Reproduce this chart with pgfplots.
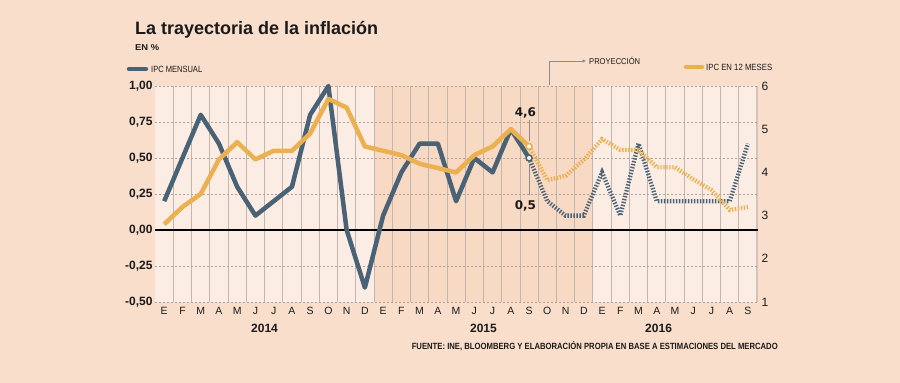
\documentclass[border=0pt]{standalone}
\usepackage{fontspec}
\setmainfont{Liberation Sans}
\newfontfamily\dejavu{DejaVu Sans}
\usepackage{graphicx}
\usepackage{pgfplots}
\pgfplotsset{compat=1.18}
\definecolor{bg}{HTML}{F9DECB}
\definecolor{lightband}{HTML}{FCEDE4}
\definecolor{midband}{HTML}{F8D9C4}
\definecolor{gridv}{HTML}{C2B6AE}
\definecolor{gridh}{HTML}{ADA39C}
\definecolor{ipcblue}{HTML}{4A6276}
\definecolor{ipcorange}{HTML}{EBB050}
\definecolor{txt}{HTML}{1A1A1A}
\definecolor{annot}{HTML}{8C8C8C}

\pgfplotstableread{
x y
0 0.2
1 0.5
2 0.8
3 0.6
4 0.3
5 0.1
6 0.2
7 0.3
8 0.8
9 1.0
10 0.0
11 -0.4
12 0.1
13 0.4
14 0.6
15 0.6
16 0.2
17 0.5
18 0.4
19 0.7
20 0.5
}\mensual
\pgfplotstableread{
x y
20 0.5
21 0.2
22 0.1
23 0.1
24 0.4
25 0.1
26 0.6
27 0.2
28 0.2
29 0.2
30 0.2
31 0.2
32 0.6
}\mensualproy
\pgfplotstableread{
x y
0 2.8
1 3.2
2 3.5
3 4.3
4 4.7
5 4.3
6 4.5
7 4.5
8 4.9
9 5.7
10 5.5
11 4.6
12 4.5
13 4.4
14 4.2
15 4.1
16 4.0
17 4.4
18 4.6
19 5.0
20 4.6
}\anual
\pgfplotstableread{
x y
20 4.6
21 3.82
22 3.92
23 4.29
24 4.77
25 4.52
26 4.52
27 4.12
28 4.12
29 3.84
30 3.59
31 3.13
32 3.2
}\anualproy

\begin{document}
\begin{tikzpicture}
\fill[bg] (0pt,0pt) rectangle (900pt,383pt);
% title
\node[anchor=base west, inner sep=0, text=txt] at (135pt,348pt)
  {\resizebox{243pt}{\height}{\fontsize{18}{20}\selectfont\bfseries La trayectoria de la inflación}};
\node[anchor=base west, inner sep=0, text=txt] at (135pt,332.5pt)
  {\resizebox{24pt}{\height}{\fontsize{8.5}{10}\selectfont\bfseries EN \%}};
% legends
\draw[ipcblue, line width=4.5pt, line cap=round] (129pt,314pt) -- (146pt,314pt);
\node[anchor=west, inner sep=0, text=txt] at (151pt,314pt)
  {\resizebox{51pt}{\height}{\fontsize{9}{10}\selectfont IPC MENSUAL}};
\draw[ipcorange, line width=4.5pt, line cap=round] (686pt,316pt) -- (702pt,316pt);
\node[anchor=west, inner sep=0, text=txt] at (706pt,316pt)
  {\resizebox{66pt}{\height}{\fontsize{9}{10}\selectfont IPC EN 12 MESES}};
% projection annotation
\draw[annot, line width=0.6pt] (549pt,298pt) -- (549pt,322pt) -- (584pt,322pt);
\fill[annot] (586pt,322pt) -- (582.5pt,323.6pt) -- (582.5pt,320.4pt) -- cycle;
\node[anchor=west, inner sep=0, text=txt] at (589pt,322.5pt)
  {\resizebox{51pt}{\height}{\fontsize{8.5}{10}\selectfont PROYECCIÓN}};
% source
\node[anchor=base east, inner sep=0, text=txt] at (778pt,33pt)
  {\resizebox{366pt}{\height}{\fontsize{9}{10}\selectfont\bfseries FUENTE: INE, BLOOMBERG Y ELABORACIÓN PROPIA EN BASE A ESTIMACIONES DEL MERCADO}};

\begin{axis}[
  at={(155.1pt,81pt)}, anchor=south west,
  scale only axis, width=602pt, height=216pt,
  xmin=-0.5, xmax=32.5, ymin=-0.5, ymax=1,
  axis line style={draw=none},
  major tick length=0pt,
  xtick={0,...,32},
  xticklabels={E,F,M,A,M,J,J,A,S,O,N,D,E,F,M,A,M,J,J,A,S,O,N,D,E,F,M,A,M,J,J,A,S},
  xticklabel style={font=\fontsize{10.5}{12}\selectfont, text=txt, yshift=-1.5pt},
  ytick={-0.5,-0.25,0,0.25,0.5,0.75,1},
  yticklabels={{-0,50},{-0,25},{0,00},{0,25},{0,50},{0,75},{1,00}},
  yticklabel style={font=\fontsize{12}{14}\selectfont\bfseries, text=txt, xshift=1pt},
  clip=false,
]
\fill[lightband] (axis cs:-0.5,-0.5) rectangle (axis cs:11.5,1);
\fill[midband] (axis cs:11.5,-0.5) rectangle (axis cs:23.5,1);
\fill[lightband] (axis cs:23.5,-0.5) rectangle (axis cs:32.5,1);
\pgfplotsinvokeforeach{0,...,31}{
  \draw[gridv, line width=0.9pt] (axis cs:#1+0.5,-0.5) -- (axis cs:#1+0.5,1);
}
\draw[gridv!70!bg, line width=2pt] (axis cs:32.5,-0.5) -- (axis cs:32.5,1);
\pgfplotsinvokeforeach{-0.5,-0.25,0.25,0.5,0.75,1}{
  \draw[gridh, line width=0.6pt, dash pattern=on 2pt off 2pt] (axis cs:-0.5,#1) -- (axis cs:32.5,#1);
}
\draw[black, line width=1.2pt] (axis cs:-0.5,0) -- (axis cs:32.55,0);
% year labels
\node[text=txt, font=\fontsize{12}{14}\selectfont\bfseries] at (axis cs:5.5,-0.5) [yshift=-26pt] {2014};
\node[text=txt, font=\fontsize{12}{14}\selectfont\bfseries] at (axis cs:17.5,-0.5) [yshift=-26pt] {2015};
\node[text=txt, font=\fontsize{12}{14}\selectfont\bfseries] at (axis cs:27.1,-0.5) [yshift=-26pt] {2016};
% annotation 0,5
\draw[annot, line width=0.8pt] (axis cs:20,0.46) -- (axis cs:20,0.245);
\node[text=txt, font=\dejavu\fontsize{12}{14}\selectfont\bfseries] at (axis cs:19.8,0.165) {0,5};
\addplot[ipcblue, line width=4.5pt, line join=round] table {\mensual};
\addplot[ipcblue, line width=4.3pt, dash pattern=on 1.4pt off 1.6pt] table {\mensualproy};
\addplot[only marks, mark=*, mark size=3pt, mark options={fill=white, draw=ipcblue, line width=1.6pt}] coordinates {(20,0.5)};
\end{axis}

\begin{axis}[
  at={(155.1pt,81pt)}, anchor=south west,
  scale only axis, width=602pt, height=216pt,
  xmin=-0.5, xmax=32.5, ymin=1, ymax=6,
  axis line style={draw=none},
  major tick length=0pt,
  xtick=\empty,
  ytick={1,2,3,4,5,6},
  yticklabels={1,2,3,4,5,6},
  yticklabel pos=right,
  yticklabel style={font=\fontsize{12}{14}\selectfont, text=txt, xshift=1pt},
  clip=false,
]
\addplot[ipcorange, line width=4.5pt, line join=round] table {\anual};
\addplot[ipcorange, line width=4.3pt, dash pattern=on 1.4pt off 1.6pt] table {\anualproy};
\addplot[only marks, mark=*, mark size=3pt, mark options={fill=white, draw=ipcorange, line width=1.6pt}] coordinates {(20,4.6)};
\draw[annot, line width=0.8pt] (axis cs:20,5.22) -- (axis cs:20,4.72);
\node[text=txt, font=\dejavu\fontsize{12}{14}\selectfont\bfseries] at (axis cs:19.8,5.38) {4,6};
\end{axis}
\end{tikzpicture}
\end{document}
